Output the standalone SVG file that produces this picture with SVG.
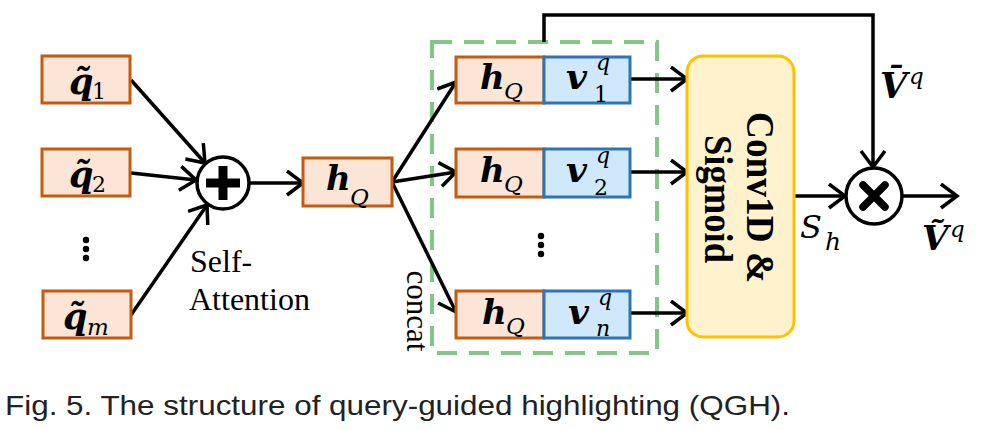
<svg xmlns="http://www.w3.org/2000/svg" width="981" height="430" viewBox="0 0 981 430">
<style>
.ob{fill:#fbe5d6;stroke:#c55a11;stroke-width:3}
.bb{fill:#cfe8fc;stroke:#2e75b6;stroke-width:3}
.ln{fill:none;stroke:#000;stroke-width:3.5}
.m{font-family:"DejaVu Serif",serif;font-style:italic;font-weight:bold;fill:#000}
.mi{font-family:"DejaVu Serif",serif;font-style:italic;fill:#000}
.mr{font-family:"DejaVu Serif",serif;fill:#000}
.t{font-family:"Liberation Serif",serif;fill:#000}
</style>
<defs>
<marker id="ah" markerUnits="userSpaceOnUse" markerWidth="24" markerHeight="30" refX="18" refY="13" orient="auto" viewBox="0 0 24 30">
<path d="M2,1 L18,13 L2,25" fill="none" stroke="#000" stroke-width="3.5"/>
</marker>
</defs>
<rect width="981" height="430" fill="#fff"/>

<g id="group-concat">
<rect x="432" y="42" width="225" height="311" fill="none" stroke="#82c785" stroke-width="4" stroke-dasharray="20 12"/>
<text class="t" font-size="31" transform="translate(407,311) rotate(90)" text-anchor="middle">concat</text>
</g>

<g id="connectors">
<line class="ln" x1="131" y1="80" x2="205" y2="163" marker-end="url(#ah)"/>
<line class="ln" x1="131" y1="173" x2="196" y2="180" marker-end="url(#ah)"/>
<line class="ln" x1="131" y1="315" x2="207" y2="205" marker-end="url(#ah)"/>
<line class="ln" x1="250" y1="183" x2="303" y2="183" marker-end="url(#ah)"/>
<line class="ln" x1="392" y1="182" x2="456" y2="82" marker-end="url(#ah)"/>
<line class="ln" x1="392" y1="182" x2="456" y2="172" marker-end="url(#ah)"/>
<line class="ln" x1="392" y1="182" x2="456" y2="312" marker-end="url(#ah)"/>
<line class="ln" x1="630" y1="79" x2="687" y2="79" marker-end="url(#ah)"/>
<line class="ln" x1="630" y1="172" x2="687" y2="172" marker-end="url(#ah)"/>
<line class="ln" x1="630" y1="313" x2="687" y2="313" marker-end="url(#ah)"/>
<path class="ln" d="M544,42 V15 H873 V167" marker-end="url(#ah)"/>
<line class="ln" x1="794" y1="196" x2="845" y2="196" marker-end="url(#ah)"/>
<line class="ln" x1="903" y1="196" x2="957" y2="196" marker-end="url(#ah)"/>
</g>

<g id="q1">
<rect class="ob" x="42" y="56" width="88" height="47"/>
<text class="m" font-size="35" x="69" y="94">q̃</text>
<text class="mr" font-size="22" x="92" y="99">1</text>
</g>
<g id="q2">
<rect class="ob" x="42" y="149" width="88" height="47"/>
<text class="m" font-size="35" x="69" y="187">q̃</text>
<text class="mr" font-size="22" x="92" y="192">2</text>
</g>
<g id="qdots">
<circle cx="86" cy="240" r="3.2"/>
<circle cx="86" cy="249" r="3.2"/>
<circle cx="86" cy="258" r="3.2"/>
</g>
<g id="qm">
<rect class="ob" x="43" y="291" width="88" height="47"/>
<text class="m" font-size="35" x="63" y="329">q̃</text>
<text class="mi" font-size="23" x="87" y="335">m</text>
</g>

<g id="self-attention">
<circle cx="223" cy="183" r="26" fill="#fff" stroke="#000" stroke-width="3.5"/>
<path d="M218.5,166 h9 v12.5 h12.5 v9 h-12.5 v12.5 h-9 v-12.5 h-12.5 v-9 h12.5 z" fill="#000"/>
<text class="t" font-size="32" x="190" y="272">Self-</text>
<text class="t" font-size="32" x="189" y="310">Attention</text>
</g>

<g id="hQ">
<rect class="ob" x="303" y="158" width="89" height="48"/>
<text class="m" font-size="34" x="326" y="190">h</text>
<text class="mi" font-size="23" x="350" y="205">Q</text>
</g>

<g id="row1">
<rect class="ob" x="456" y="57" width="88" height="46"/>
<rect class="bb" x="544" y="57" width="86" height="46"/>
<text class="m" font-size="34" x="480" y="89">h</text>
<text class="mi" font-size="23" x="504" y="99">Q</text>
<text class="m" font-size="36" x="566" y="89">v</text>
<text class="mi" font-size="22" x="596" y="70">q</text>
<text class="mr" font-size="22" x="594" y="102">1</text>
</g>
<g id="row2">
<rect class="ob" x="456" y="149" width="88" height="48"/>
<rect class="bb" x="544" y="149" width="86" height="48"/>
<text class="m" font-size="34" x="480" y="182">h</text>
<text class="mi" font-size="23" x="504" y="192">Q</text>
<text class="m" font-size="36" x="566" y="182">v</text>
<text class="mi" font-size="22" x="596" y="163">q</text>
<text class="mr" font-size="22" x="594" y="195">2</text>
</g>
<g id="rowdots">
<circle cx="541" cy="236" r="3.2"/>
<circle cx="541" cy="245" r="3.2"/>
<circle cx="541" cy="254" r="3.2"/>
</g>
<g id="rown">
<rect class="ob" x="456" y="291" width="88" height="47"/>
<rect class="bb" x="544" y="291" width="86" height="47"/>
<text class="m" font-size="34" x="482" y="324">h</text>
<text class="mi" font-size="23" x="506" y="334">Q</text>
<text class="m" font-size="36" x="568" y="324">v</text>
<text class="mi" font-size="22" x="598" y="305">q</text>
<text class="mi" font-size="22" x="596" y="336">n</text>
</g>

<g id="conv">
<rect x="687" y="56" width="107" height="281" rx="16" fill="#fff2cc" stroke="#ffc000" stroke-width="3"/>
<text class="t" font-weight="bold" font-size="40" transform="translate(747,197.5) rotate(90)" text-anchor="middle" textLength="171" lengthAdjust="spacingAndGlyphs">Conv1D &amp;</text>
<text class="t" font-weight="bold" font-size="40" transform="translate(705,199) rotate(90)" text-anchor="middle" textLength="128" lengthAdjust="spacingAndGlyphs">Sigmoid</text>
</g>

<g id="multiply">
<circle cx="874" cy="196" r="28" fill="#fff" stroke="#000" stroke-width="3.5"/>
<path d="M863,185 L885,207 M885,185 L863,207" stroke="#000" stroke-width="7.5" stroke-linecap="round"/>
</g>

<g id="labels">
<text class="m" font-size="35" x="880" y="98">V̄</text>
<text class="mi" font-size="23" x="909" y="84">q</text>
<text class="mi" font-size="32" x="800" y="238">S</text>
<text class="mi" font-size="25" x="825" y="250">h</text>
<text class="m" font-size="34" x="922" y="250">Ṽ</text>
<text class="mi" font-size="23" x="950" y="237">q</text>
</g>

<text id="caption" font-family="'Liberation Sans',Arial,sans-serif" font-size="28" x="5" y="415" textLength="785" lengthAdjust="spacingAndGlyphs" fill="#222">Fig. 5. The structure of query-guided highlighting (QGH).</text>
</svg>
